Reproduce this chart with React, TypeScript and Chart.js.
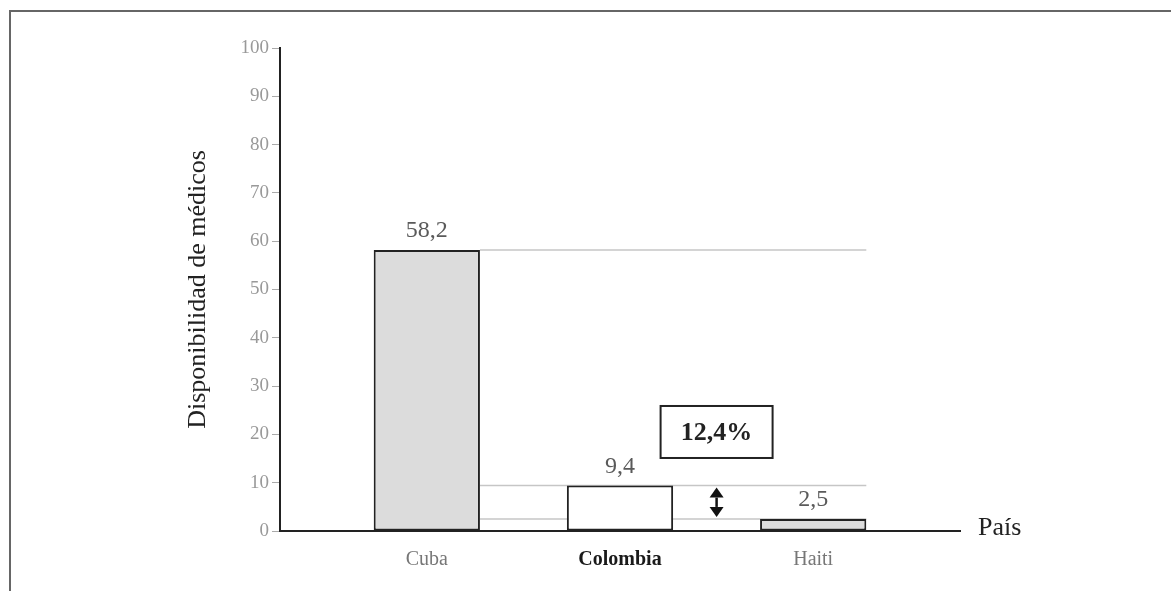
import React, { useEffect, useRef } from 'react';
import { Chart, registerables } from 'chart.js';

Chart.register(...registerables);

// ---- data ----
const categories = ['Cuba', 'Colombia', 'Haiti'];
const values = [58.2, 9.4, 2.5];
const barFills = ['#dcdcdc', '#ffffff', '#dcdcdc'];
const referenceValues = [58.2, 9.4, 2.5];
const highlightCategory = 'Colombia';
const gapLabel = '12,4%';
const yTitle = 'Disponibilidad de médicos';
const xTitle = 'País';
const yMin = 0;
const yMax = 100;
const yStep = 10;

const SERIF = '"Liberation Serif", "Times New Roman", serif';

const fmt = (v: number) => v.toFixed(1).replace('.', ',');

const isHighlight = (c: any) => {
  if (!c || !c.tick || c.tick.value == null) return false;
  return categories[Math.round(Number(c.tick.value)) - 1] === highlightCategory;
};

const annotationPlugin = {
  id: 'annotationPlugin',
  beforeDatasetsDraw(chart: any) {
    const { ctx, scales } = chart;
    const y = scales.y;
    const meta = chart.getDatasetMeta(0);
    const first = meta.data[0] as any;
    const last = meta.data[meta.data.length - 1] as any;
    if (!first || !last) return;
    const x0 = first.x + first.width / 2;
    const x1 = last.x + last.width / 2;
    ctx.save();
    ctx.strokeStyle = '#c6c6c6';
    ctx.lineWidth = 1.5;
    referenceValues.forEach((v) => {
      const py = y.getPixelForValue(v);
      ctx.beginPath();
      ctx.moveTo(x0, py);
      ctx.lineTo(x1, py);
      ctx.stroke();
    });
    ctx.restore();
  },
  afterDatasetsDraw(chart: any) {
    const { ctx, scales, chartArea } = chart;
    const x = scales.x;
    const y = scales.y;
    const meta = chart.getDatasetMeta(0);
    ctx.save();

    // value labels
    ctx.font = `24px ${SERIF}`;
    ctx.fillStyle = '#5a5a5a';
    ctx.textAlign = 'center';
    ctx.textBaseline = 'alphabetic';
    values.forEach((v, i) => {
      const el = meta.data[i] as any;
      if (!el) return;
      ctx.fillText(fmt(v), el.x, y.getPixelForValue(v) - 13);
    });

    // gap box
    const bx = x.getPixelForValue(2.5);
    const by = y.getPixelForValue(20.5);
    const bw = 112;
    const bh = 52;
    ctx.fillStyle = '#ffffff';
    ctx.fillRect(bx - bw / 2, by - bh / 2, bw, bh);
    ctx.strokeStyle = '#222222';
    ctx.lineWidth = 2;
    ctx.strokeRect(bx - bw / 2, by - bh / 2, bw, bh);
    ctx.font = `bold 26px ${SERIF}`;
    ctx.fillStyle = '#222222';
    ctx.textBaseline = 'middle';
    ctx.fillText(gapLabel, bx, by + 1);

    // double arrow between Colombia and Haiti levels
    const ax = bx;
    const yTop = y.getPixelForValue(values[1]) + 2;
    const yBot = y.getPixelForValue(values[2]) - 2;
    const hw = 7;
    const hh = 10;
    ctx.fillStyle = '#111111';
    ctx.strokeStyle = '#111111';
    ctx.lineWidth = 2.5;
    ctx.beginPath();
    ctx.moveTo(ax, yTop + hh);
    ctx.lineTo(ax, yBot - hh);
    ctx.stroke();
    ctx.beginPath();
    ctx.moveTo(ax, yTop);
    ctx.lineTo(ax - hw, yTop + hh);
    ctx.lineTo(ax + hw, yTop + hh);
    ctx.closePath();
    ctx.fill();
    ctx.beginPath();
    ctx.moveTo(ax, yBot);
    ctx.lineTo(ax - hw, yBot - hh);
    ctx.lineTo(ax + hw, yBot - hh);
    ctx.closePath();
    ctx.fill();

    // x axis title
    ctx.font = `26px ${SERIF}`;
    ctx.fillStyle = '#222222';
    ctx.textAlign = 'left';
    ctx.textBaseline = 'alphabetic';
    ctx.fillText(xTitle, chartArea.right + 18, y.getPixelForValue(0) + 4);

    ctx.restore();
  },
};

export default function App() {
  const canvasRef = useRef<HTMLCanvasElement | null>(null);

  useEffect(() => {
    const canvas = canvasRef.current;
    if (!canvas) return;
    const chart = new Chart(canvas, {
      type: 'bar',
      data: {
        datasets: [
          {
            data: values.map((v, i) => ({ x: i + 1, y: v })),
            backgroundColor: barFills,
            borderColor: '#222222',
            borderWidth: 2,
            borderSkipped: false,
            barPercentage: 0.55,
            categoryPercentage: 1,
          },
        ],
      },
      options: {
        responsive: false,
        animation: false,
        layout: { padding: { top: 48, right: 211, bottom: 0, left: 0 } },
        plugins: {
          legend: { display: false },
          tooltip: { enabled: false },
        },
        scales: {
          x: {
            type: 'linear',
            offset: false,
            min: 0.24,
            max: 3.76,
            afterBuildTicks: (scale: any) => {
              scale.ticks = categories.map((_, i) => ({ value: i + 1 }));
            },
            afterFit: (scale: any) => {
              scale.height = 60;
            },
            grid: { display: true, drawOnChartArea: false, drawTicks: false },
            border: { display: true, color: '#222222', width: 2 },
            ticks: {
              autoSkip: false,
              maxRotation: 0,
              padding: 17,
              callback: (v: any) => categories[Math.round(Number(v)) - 1] ?? '',
              color: (c: any) => (isHighlight(c) ? '#1a1a1a' : '#777777'),
              font: (c: any) => ({
                family: SERIF,
                size: 20,
                weight: isHighlight(c) ? 'bold' : 'normal',
              }),
            },
          },
          y: {
            min: yMin,
            max: yMax,
            afterFit: (scale: any) => {
              scale.width = 280;
            },
            grid: {
              drawOnChartArea: false,
              drawTicks: true,
              tickLength: 8,
              color: '#aaaaaa',
              lineWidth: 1,
            },
            border: { display: true, color: '#222222', width: 2 },
            ticks: {
              stepSize: yStep,
              autoSkip: false,
              padding: 3,
              color: '#999999',
              font: { family: SERIF, size: 19 },
            },
            title: {
              display: true,
              text: yTitle,
              color: '#222222',
              font: { family: SERIF, size: 26 },
              padding: { top: 183, bottom: 0 },
            },
          },
        },
      },
      plugins: [annotationPlugin],
    } as any);
    return () => chart.destroy();
  }, []);

  return (
    <div style={{ position: 'fixed', left: 0, top: 0, width: 1171, height: 591, background: '#ffffff' }}>
      <div
        style={{
          position: 'absolute',
          left: 9,
          top: 10,
          width: 1162,
          height: 581,
          borderTop: '2px solid #666666',
          borderLeft: '2px solid #666666',
          boxSizing: 'border-box',
        }}
      />
      <canvas
        ref={canvasRef}
        width={1171}
        height={591}
        style={{ position: 'absolute', left: 0, top: 0, display: 'block' }}
      />
    </div>
  );
}
